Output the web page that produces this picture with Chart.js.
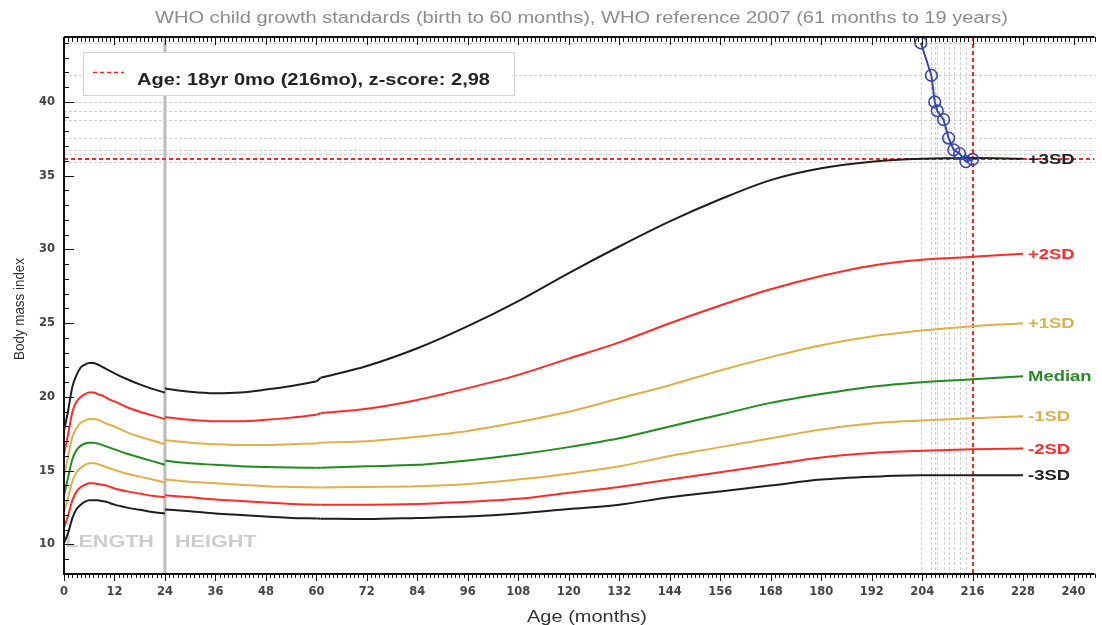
<!DOCTYPE html>
<html><head><meta charset="utf-8">
<script src="https://cdn.jsdelivr.net/npm/chart.js@4.4.1/dist/chart.umd.min.js"></script>
<style>html,body{margin:0;padding:0;background:#fff;overflow:hidden}canvas{display:block}</style>
</head><body>
<canvas id="c" width="1102" height="625"></canvas>
<script>
// ---------- text ----------
const titleText = 'WHO child growth standards (birth to 60 months), WHO reference 2007 (61 months to 19 years)';
const legendText = 'Age: 18yr 0mo (216mo), z-score: 2,98';
const xTitle = 'Age (months)';
const yTitle = 'Body mass index';
const xTickValues = [0,12,24,36,48,60,72,84,96,108,120,132,144,156,168,180,192,204,216,228,240];
const yTickValues = [10,15,20,25,30,35,40];
const curveLabels = ['-3SD','-2SD','-1SD','Median','+1SD','+2SD','+3SD'];

// ---------- reference curves: birth to 24 months (length) ----------
const ageLen = [0,1,2,3,4,5,6,7,8,9,10,11,12,15,18,21,24];
const m3Len  = [10.1,10.8,11.8,12.4,12.7,12.9,13.0,13.0,13.0,12.95,12.9,12.8,12.7,12.5,12.35,12.2,12.1];
const m2Len  = [11.1,12.0,13.0,13.6,13.9,14.05,14.15,14.15,14.1,14.05,14.0,13.9,13.8,13.6,13.45,13.3,13.2];
const m1Len  = [12.2,13.2,14.3,14.9,15.2,15.4,15.5,15.5,15.45,15.35,15.25,15.15,15.05,14.8,14.6,14.4,14.2];
const medLen = [13.3,14.6,15.8,16.4,16.7,16.85,16.9,16.9,16.85,16.75,16.65,16.55,16.45,16.15,15.9,15.65,15.4];
const p1Len  = [14.6,16.0,17.3,17.9,18.25,18.4,18.5,18.5,18.45,18.35,18.2,18.1,18.0,17.6,17.3,17.05,16.8];
const p2Len  = [16.1,17.5,19.0,19.7,20.0,20.2,20.3,20.3,20.2,20.1,19.95,19.8,19.7,19.3,19.0,18.75,18.5];
const p3Len  = [17.7,19.1,20.7,21.5,22.0,22.2,22.3,22.3,22.2,22.05,21.9,21.75,21.6,21.2,20.85,20.55,20.3];

// ---------- reference curves: 24 months to 19 years (height) ----------
const ageHt = [24,30,36,42,48,54,60,61,72,84,96,108,120,132,144,156,168,180,192,204,216,228];
const m3Ht  = [12.37,12.25,12.1,12.0,11.9,11.8,11.76,11.75,11.72,11.8,11.9,12.1,12.4,12.7,13.2,13.6,14.0,14.4,14.6,14.7,14.7,14.7];
const m2Ht  = [13.34,13.2,13.05,12.95,12.85,12.75,12.7,12.7,12.7,12.75,12.9,13.1,13.5,13.9,14.4,14.9,15.4,15.9,16.2,16.35,16.45,16.5];
const m1Ht  = [14.4,14.25,14.15,14.05,13.95,13.9,13.86,13.86,13.9,13.95,14.1,14.4,14.8,15.3,16.0,16.6,17.2,17.8,18.2,18.4,18.55,18.7];
const medHt = [15.67,15.5,15.4,15.3,15.25,15.22,15.2,15.2,15.3,15.4,15.7,16.1,16.6,17.2,18.0,18.8,19.6,20.2,20.7,21.0,21.2,21.4];
const p1Ht  = [17.07,16.9,16.8,16.75,16.75,16.8,16.85,16.9,17.0,17.3,17.7,18.3,19.0,19.9,20.8,21.8,22.7,23.5,24.1,24.5,24.8,25.0];
const p2Ht  = [18.65,18.45,18.35,18.35,18.45,18.6,18.8,18.9,19.2,19.8,20.6,21.5,22.6,23.7,25.0,26.2,27.3,28.2,28.9,29.3,29.5,29.7];
const p3Ht  = [20.57,20.35,20.25,20.3,20.5,20.75,21.05,21.3,22.1,23.3,24.8,26.5,28.4,30.2,31.9,33.4,34.7,35.5,35.95,36.15,36.2,36.15];

// ---------- patient measurements ----------
const patientAge = [203.7,206.2,207.0,207.6,209.1,210.3,211.5,212.9,214.4,216.0];
const patientBmi = [44.0,41.8,40.0,39.4,38.8,37.55,36.75,36.5,35.95,36.1];

// ---------- styles ----------
const curveColors = ['#1e1e1e','#ff2a2a','#e0b048','#1f8c1f','#e0b048','#ff2a2a','#1e1e1e'];
const labelColors = ['#222222','#ff2a2a','#dcb050','#2a8a2a','#dcb050','#ff2a2a','#222222'];
const lenCurves = [m3Len,m2Len,m1Len,medLen,p1Len,p2Len,p3Len];
const htCurves  = [m3Ht,m2Ht,m1Ht,medHt,p1Ht,p2Ht,p3Ht];
const STRETCH = 1.27;

const datasets = [{
  label:'patient',
  data: patientAge.map((a,i)=>({x:a,y:patientBmi[i]})),
  borderColor:'#3a46ae', borderWidth:2,
  pointRadius:5.8, pointBorderWidth:1.6, pointBorderColor:'#3a46ae',
  pointBackgroundColor:'rgba(0,0,0,0)', showLine:true, tension:0
}];
function curve(label,ages,vals,color){
  return {label, data: ages.map((a,i)=>({x:a,y:vals[i]})), borderColor:color, borderWidth:2,
    pointRadius:0, cubicInterpolationMode:'monotone'};
}
const cut = ageHt.indexOf(60); // standards end at 60 months, reference 2007 starts at 61
lenCurves.forEach((arr,k)=>datasets.push(curve(curveLabels[k]+' length',ageLen,arr,curveColors[k])));
htCurves.forEach((arr,k)=>{
  datasets.push(curve(curveLabels[k]+' height',ageHt.slice(0,cut+1),arr.slice(0,cut+1),curveColors[k]));
  datasets.push(curve(curveLabels[k]+' join',ageHt.slice(cut,cut+2),arr.slice(cut,cut+2),curveColors[k]));
  datasets.push(curve(curveLabels[k],ageHt.slice(cut+1),arr.slice(cut+1),curveColors[k]));
});

function line(ctx,x1,y1,x2,y2){ctx.beginPath();ctx.moveTo(x1,y1);ctx.lineTo(x2,y2);ctx.stroke();}
function stretchText(ctx,text,x,y,sx,align){
  ctx.save();ctx.translate(x,y);ctx.scale(sx,1);ctx.textAlign=align;ctx.fillText(text,0,0);ctx.restore();
}

const decor = {
  id:'decor',
  beforeDatasetsDraw(chart){
    const {ctx, chartArea:a, scales:{x,y}} = chart;
    ctx.save();
    ctx.beginPath();ctx.rect(a.left,a.top,a.right-a.left,a.bottom-a.top);ctx.clip();
    // LENGTH / HEIGHT
    ctx.fillStyle='#cdcdcd';ctx.font='bold 17px "Liberation Sans"';ctx.textBaseline='middle';
    const ly = y.getPixelForValue(10)-2;
    stretchText(ctx,'LENGTH',x.getPixelForValue(24)-11,ly,STRETCH,'right');
    stretchText(ctx,'HEIGHT',x.getPixelForValue(24)+10,ly,STRETCH,'left');
    // patient guide lines
    ctx.strokeStyle='#cfcfcf';ctx.lineWidth=1;ctx.setLineDash([3,2]);
    patientAge.slice(0,-1).forEach(v=>{const px=Math.round(x.getPixelForValue(v))+0.5;line(ctx,px,a.top,px,a.bottom);});
    patientBmi.slice(0,-1).forEach(v=>{const py=Math.round(y.getPixelForValue(v))+0.5;line(ctx,a.left,py,a.right,py);});
    // length/height divider
    ctx.setLineDash([]);ctx.strokeStyle='#bcbcbc';ctx.lineWidth=3;
    const d=x.getPixelForValue(24);line(ctx,d,a.top,d,a.bottom);
    // selected point lines
    ctx.strokeStyle='#ff2424';ctx.lineWidth=2;ctx.setLineDash([4,3]);
    const sx=Math.round(x.getPixelForValue(patientAge[patientAge.length-1]));
    const sy=Math.round(y.getPixelForValue(patientBmi[patientBmi.length-1]));
    line(ctx,sx,a.top,sx,a.bottom);line(ctx,a.left,sy,a.right,sy);
    ctx.restore();
  },
  afterDatasetsDraw(chart){
    const {ctx, chartArea:a, scales:{x,y}} = chart;
    ctx.save();
    // curve labels
    ctx.font='bold 14.5px "Liberation Sans"';ctx.textBaseline='middle';
    const lx = x.getPixelForValue(ageHt[ageHt.length-1])+5;
    htCurves.forEach((arr,k)=>{
      ctx.fillStyle=labelColors[k];
      stretchText(ctx,curveLabels[k],lx,y.getPixelForValue(arr[arr.length-1])+1,STRETCH,'left');
    });
    // legend box
    ctx.fillStyle='#fff';ctx.fillRect(83,52,431,43);
    ctx.strokeStyle='#d2d2d2';ctx.lineWidth=1;ctx.strokeRect(83.5,52.5,431,43);
    ctx.strokeStyle='#ff2424';ctx.setLineDash([4,3]);ctx.lineWidth=1.5;line(ctx,93,72.5,124,72.5);
    ctx.setLineDash([]);
    ctx.fillStyle='#222';ctx.font='bold 16px "Liberation Sans"';ctx.textBaseline='middle';
    const w=ctx.measureText(legendText).width;
    stretchText(ctx,legendText,137,81,353/w,'left');
    ctx.restore();
  },
  afterDraw(chart){
    const {ctx, chartArea:a, scales:{x,y}} = chart;
    ctx.save();
    ctx.strokeStyle='#111';ctx.lineWidth=1;
    for(let m=0;m<=x.max;m++){
      const px=Math.round(x.getPixelForValue(m))+0.5, major=m%12===0, len=major?7:4;
      line(ctx,px,a.bottom,px,a.bottom+len);
      line(ctx,px,a.top,px,a.top+len+1);
    }
    for(let v=Math.ceil(y.min);v<=y.max;v++){
      const py=Math.round(y.getPixelForValue(v))+0.5, major=v%5===0;
      line(ctx,a.left,py,a.left+(major?10:5),py);
    }
    ctx.lineWidth=2;
    line(ctx,a.left,a.top,a.left,a.bottom+1);
    line(ctx,a.left,a.bottom,a.right,a.bottom);
    line(ctx,a.left,a.top,a.right,a.top);
    // title
    ctx.fillStyle='#8c8c8c';ctx.font='16px "Liberation Sans"';ctx.textBaseline='middle';
    let w=ctx.measureText(titleText).width;
    stretchText(ctx,titleText,581.5,19,853/w,'center');
    // axis titles
    ctx.fillStyle='#333';ctx.font='16px "Liberation Sans"';
    w=ctx.measureText(xTitle).width;
    stretchText(ctx,xTitle,587,618,120/w,'center');
    ctx.font='14px "Liberation Sans"';
    w=ctx.measureText(yTitle).width;
    ctx.save();ctx.translate(20,309);ctx.rotate(-Math.PI/2);
    stretchText(ctx,yTitle,0,0,102/w,'center');ctx.restore();
    ctx.restore();
  }
};

new Chart(document.getElementById('c'),{
  type:'line',
  data:{datasets},
  options:{
    responsive:false, animation:false, events:[],
    layout:{padding:{top:37,right:1,left:0,bottom:0}},
    plugins:{legend:{display:false},title:{display:false},tooltip:{enabled:false}},
    scales:{
      x:{type:'linear',min:0,max:245,
        grid:{display:false,drawTicks:false},border:{display:false},
        ticks:{font:{family:'DejaVu Sans',weight:'bold',size:11.5},color:'#444',padding:11,autoSkip:false,maxRotation:0},
        afterBuildTicks:s=>{s.ticks=xTickValues.map(v=>({value:v}));},
        afterFit:s=>{s.height=51;}},
      y:{type:'linear',min:8,max:44.4,
        grid:{display:false,drawTicks:false},border:{display:false},
        ticks:{font:{family:'DejaVu Sans',weight:'bold',size:11.5},color:'#444',padding:9},
        afterBuildTicks:s=>{s.ticks=yTickValues.map(v=>({value:v}));},
        afterFit:s=>{s.width=64;}}
    }
  },
  plugins:[decor]
});
</script>
</body></html>
